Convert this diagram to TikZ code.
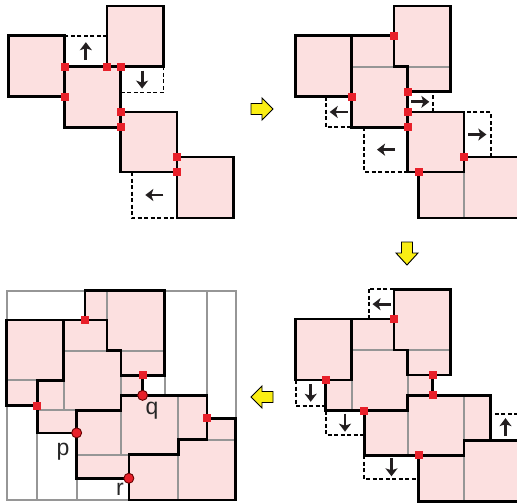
\documentclass[tikz,border=0pt]{standalone}
\usepackage{fontspec}
\setmainfont{Liberation Sans}
\usetikzlibrary{arrows.meta}
\definecolor{pinkc}{RGB}{252,224,224}
\definecolor{greyc}{RGB}{150,150,150}
\definecolor{redc}{RGB}{232,32,42}
\definecolor{yelc}{RGB}{250,238,20}
\definecolor{arrc}{RGB}{35,31,32}
% panel 2/3 shared pieces
\def\zzA{(8.7,35.7) -- (64.7,35.7) -- (64.7,96.7) -- (8.7,96.7) -- cycle}
\def\zzB{(107,6) -- (163.5,6) -- (163.5,91.7) -- (120.7,91.7) -- (120.7,66.7) -- (107,66.7) -- cycle}
\def\zzC{(64.7,35.7) -- (107,35.7) -- (107,66.7) -- (120.7,66.7) -- (120.7,127.3) -- (64.7,127.3) -- cycle}
\def\zzD{(120.7,112) -- (177,112) -- (177,172) -- (120.7,172) -- cycle}
\def\zzE{(177,157) -- (233.3,157) -- (233.3,218) -- (131.7,218) -- (131.7,172) -- (177,172) -- cycle}
\def\zzCC{(64.7,35.7) -- (107,35.7) -- (107,66.7) -- (120.7,66.7) -- (120.7,91.7) -- (145.7,91.7) -- (145.7,112) -- (120.7,112) -- (120.7,127.3) -- (38.7,127.3) -- (38.7,96.7) -- (64.7,96.7) -- cycle}
\def\zzDD{(120.7,112) -- (203.7,112) -- (203.7,157) -- (177,157) -- (177,172) -- (77.3,172) -- (77.3,127.3) -- (120.7,127.3) -- cycle}
% panel 4 pieces
\def\zqA{(8.7,35.7) -- (64.7,35.7) -- (64.7,96.7) -- (38.7,96.7) -- (38.7,122.3) -- (8.7,122.3) -- cycle}
\def\zqB{(85.5,6) -- (163.5,6) -- (163.5,91.7) -- (120.7,91.7) -- (120.7,66.7) -- (107,66.7) -- (107,35.7) -- (85.5,35.7) -- cycle}
\def\zqC{(64.7,35.7) -- (107,35.7) -- (107,66.7) -- (120.7,66.7) -- (120.7,91.7) -- (142,91.7) -- (142,112) -- (120.7,112) -- (120.7,127.3) -- (77.3,127.3) -- (77.3,150) -- (38.7,150) -- (38.7,96.7) -- (64.7,96.7) -- cycle}
\def\zqD{(120.7,112) -- (205,112) -- (205,157) -- (177,157) -- (177,172) -- (128.5,172) -- (128.5,196) -- (77.3,196) -- (77.3,127.3) -- (120.7,127.3) -- cycle}
\def\zqE{(177,157) -- (205,157) -- (205,135.3) -- (233.3,135.3) -- (233.3,218) -- (128.5,218) -- (128.5,172) -- (177,172) -- cycle}
\tikzset{
  pinkfill/.style={fill=pinkc},
  piece/.style={draw=black, line width=2.6pt, line join=miter},
  inner/.style={draw=greyc, line width=2pt},
  dbox/.style={draw=black, line width=1.8pt, dash pattern=on 4pt off 2.5pt},
  mv/.style={draw=arrc, line width=2.8pt, -{Stealth[length=8pt,width=12pt,inset=2pt]}},
  redsq/.style={rectangle, fill=redc, minimum size=8pt, inner sep=0pt, draw=none},
  redci/.style={circle, fill=redc, minimum size=10pt, inner sep=0pt, draw=black!60!red, line width=0.9pt},
  yarrow/.style={fill=yelc, draw=black, line width=0.9pt, line join=miter},
  lab/.style={font=\fontsize{23}{23}\selectfont, text=black!85, anchor=base, inner sep=0pt}
}
\begin{document}
\begin{tikzpicture}[x=1pt,y=-1pt]
\useasboundingbox (0,0) rectangle (517,503);
\clip (0,0) rectangle (517,503);

% ================= Panel 1 =================
\begin{scope}
  \fill[pinkfill] \zzA; \fill[pinkfill] (107,6) rectangle (163.5,66.7);
  \fill[pinkfill] (64.7,66.7) rectangle (120.7,127.3);
  \fill[pinkfill] \zzD; \fill[pinkfill] (177,157) rectangle (233.3,218);
  \draw[dbox] (64.7,35.7) rectangle (107,66.7);
  \draw[dbox] (120.7,66.7) rectangle (163.5,92.5);
  \draw[dbox] (131.7,172) rectangle (177,218);
  \draw[piece] \zzA; \draw[piece] (107,6) rectangle (163.5,66.7);
  \draw[piece] (64.7,66.7) rectangle (120.7,127.3);
  \draw[piece] \zzD; \draw[piece] (177,157) rectangle (233.3,218);
  \draw[mv] (85.85,60.2) -- (85.85,42.2);
  \draw[mv] (142.1,70.6) -- (142.1,88.6);
  \draw[mv] (163.3,195) -- (145.3,195);
  \node[redsq] (a1) at (64.7,66.7) {};
  \node[redsq] (a2) at (64.7,96.7) {};
  \node[redsq] (a3) at (107,66.7) {};
  \node[redsq] (a4) at (120.7,66.7) {};
  \node[redsq] (a5) at (120.7,112) {};
  \node[redsq] (a6) at (120.7,127.3) {};
  \node[redsq] (a7) at (177,157) {};
  \node[redsq] (a8) at (177,172) {};
\end{scope}

% ================= Panel 2 =================
\begin{scope}[shift={(287,0)}]
  \fill[pinkfill] \zzA; \fill[pinkfill] \zzB; \fill[pinkfill] \zzC;
  \fill[pinkfill] \zzD; \fill[pinkfill] \zzE;
  \draw[dbox] (38.7,96.7) rectangle (64.7,127.3);
  \draw[dbox] (120.7,91.7) rectangle (146,112);
  \draw[dbox] (77.3,127.3) rectangle (120.7,172);
  \draw[dbox] (177,112) rectangle (203.7,157);
  \draw[inner] (64.7,66.7) -- (107,66.7);
  \draw[inner] (120.7,66.7) -- (163.5,66.7);
  \draw[inner] (177,172) -- (177,218);
  \draw[piece] \zzA; \draw[piece] \zzB; \draw[piece] \zzC;
  \draw[piece] \zzD; \draw[piece] \zzE;
  \draw[mv] (60.7,112) -- (42.7,112);
  \draw[mv] (124.35,101.85) -- (142.35,101.85);
  \draw[mv] (108,149.65) -- (90,149.65);
  \draw[mv] (181.35,134.5) -- (199.35,134.5);
  \node[redsq] (b1) at (107,35.7) {};
  \node[redsq] (b2) at (64.7,96.7) {};
  \node[redsq] (b3) at (120.7,91.7) {};
  \node[redsq] (b4) at (120.7,112) {};
  \node[redsq] (b5) at (120.7,127.3) {};
  \node[redsq] (b6) at (177,157) {};
  \node[redsq] (b7) at (131.7,172) {};
\end{scope}

% ================= Panel 3 =================
\begin{scope}[shift={(287,283.3)}]
  \fill[pinkfill] \zzA; \fill[pinkfill] \zzB; \fill[pinkfill] \zzCC;
  \fill[pinkfill] \zzDD; \fill[pinkfill] \zzE;
  \draw[dbox] (82,6) rectangle (107,35.7);
  \draw[dbox] (8.7,96.7) rectangle (38.7,122.3);
  \draw[dbox] (38.7,127.3) rectangle (77.3,151.5);
  \draw[dbox] (77.3,172) rectangle (131.7,196);
  \draw[dbox] (203.7,130.7) rectangle (233.3,157);
  \draw[inner] (64.7,66.7) -- (107,66.7);
  \draw[inner] (120.7,66.7) -- (163.5,66.7);
  \draw[inner] (64.7,96.7) -- (64.7,127.3);
  \draw[inner] (120.7,91.7) -- (120.7,112);
  \draw[inner] (120.7,127.3) -- (120.7,172);
  \draw[inner] (177,112) -- (177,157);
  \draw[inner] (177,172) -- (177,218);
  \draw[piece] \zzA; \draw[piece] \zzB; \draw[piece] \zzCC;
  \draw[piece] \zzDD; \draw[piece] \zzE;
  \draw[mv] (103.5,20.85) -- (85.5,20.85);
  \draw[mv] (23.7,100.5) -- (23.7,118.5);
  \draw[mv] (58,130.4) -- (58,148.4);
  \draw[mv] (104.5,175) -- (104.5,193);
  \draw[mv] (218.5,152.85) -- (218.5,134.85);
  \node[redsq] (c1) at (107,35.7) {};
  \node[redsq] (c2) at (38.7,96.7) {};
  \node[redsq] (c3) at (77.3,127.3) {};
  \node[redsq] (c4) at (145.7,91.7) {};
  \node[redsq] (c5) at (145.7,112) {};
  \node[redsq] (c6) at (131.7,172) {};
\end{scope}

% ================= Panel 4 =================
\begin{scope}[shift={(-2.17,284.8)}, xscale=1.0196, yscale=0.987]
  \fill[pinkfill] \zqA; \fill[pinkfill] \zqB; \fill[pinkfill] \zqC;
  \fill[pinkfill] \zqD; \fill[pinkfill] \zqE;
  % frame and grid lines
  \draw[inner] (8.7,6) rectangle (233.3,218);
  \draw[inner] (38.7,150) -- (38.7,218);
  \draw[inner] (77.3,196) -- (77.3,218);
  \draw[inner] (163.5,91.7) -- (163.5,112);
  \draw[inner] (205,6) -- (205,112);
  % internal lines
  \draw[inner] (8.7,96.7) -- (38.7,96.7);
  \draw[inner] (107,6) -- (107,35.7);
  \draw[inner] (120.7,66.7) -- (163.5,66.7);
  \draw[inner] (64.7,66.7) -- (107,66.7);
  \draw[inner] (64.7,96.7) -- (64.7,127.3);
  \draw[inner] (120.7,91.7) -- (120.7,112);
  \draw[inner] (38.7,127.3) -- (77.3,127.3);
  \draw[inner] (120.7,127.3) -- (120.7,172);
  \draw[inner] (177,112) -- (177,157);
  \draw[inner] (77.3,172) -- (128.5,172);
  \draw[inner] (177,172) -- (177,218);
  \draw[inner] (205,157) -- (233.3,157);
  \draw[piece] \zqA; \draw[piece] \zqB; \draw[piece] \zqC;
  \draw[piece] \zqD; \draw[piece] \zqE;
  \node[redsq] (d1) at (85.5,35.7) {};
  \node[redsq] (d2) at (38.7,122.3) {};
  \node[redsq] (d3) at (142,91.7) {};
  \node[redsq] (d4) at (205,135.3) {};
  \node[redci] (q) at (142,112) {};
  \node[redci] (p) at (77.3,150) {};
  \node[redci] (r) at (128.5,196) {};
\end{scope}
\node[lab] (lp) at (63,455) {p};
\node[lab] (lq) at (152,414) {q};
\node[lab] (lr) at (120,495) {r};

% ================= yellow arrows =================
\draw[yarrow] (251,103.5) -- (262,103.5) -- (262,98) -- (273,109) -- (262,120) -- (262,114.5) -- (251,114.5) -- cycle;
\draw[yarrow] (401.5,242) -- (412.5,242) -- (412.5,253) -- (418,253) -- (407,265) -- (396,253) -- (401.5,253) -- cycle;
\draw[yarrow] (273,391.5) -- (262,391.5) -- (262,386) -- (251,397) -- (262,408) -- (262,402.5) -- (273,402.5) -- cycle;
\end{tikzpicture}
\end{document}
